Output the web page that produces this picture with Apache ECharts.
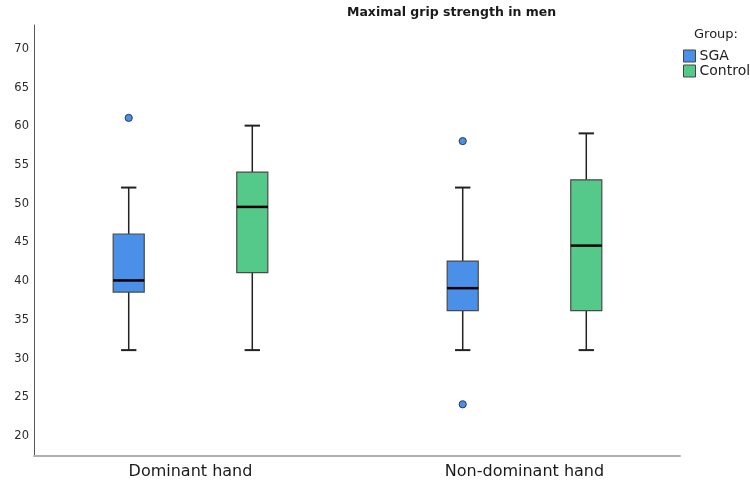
<!DOCTYPE html>
<html>
<head>
<meta charset="utf-8">
<script src="https://cdn.jsdelivr.net/npm/echarts@6/dist/echarts.min.js"></script>
<style>html,body{margin:0;padding:0;background:#fff}#c{width:750px;height:484px}</style>
</head>
<body>
<div id="c"></div>
<script>
// ---- data ----
const categories = ['Dominant hand', 'Non-dominant hand'];
const groups = ['SGA', 'Control'];
const yTicks = [20, 25, 30, 35, 40, 45, 50, 55, 60, 65, 70];
// [low whisker, Q1, median, Q3, high whisker]
const sgaBox = [[31.1, 38.6, 40.1, 46.1, 52.1], [31.1, 36.2, 39.1, 42.6, 52.1]];
const controlBox = [[31.1, 41.1, 49.6, 54.1, 60.1], [31.1, 36.2, 44.6, 53.1, 59.1]];
// [category index, value]
const sgaOutliers = [[0, 61.1], [1, 58.1], [1, 24.1]];
const controlOutliers = [];

const colors = { SGA: '#4a8fe8', Control: '#55c98a' };
const FONT = 'DejaVu Sans';
const Y_MIN = 17.42, Y_MAX = 73.1;
const GROUP_OFFSET = 0.185, BOX_FRAC = 0.093, CAP_FRAC = 0.046;

function boxRenderer(side) {
  return function (params, api) {
    const ci = api.value(0);
    const bw = api.size([1, 0])[0];
    const cx = api.coord([ci, api.value(3)])[0] + side * bw * GROUP_OFFSET;
    const y = i => api.coord([ci, api.value(i)])[1];
    const half = bw * BOX_FRAC / 2, cap = bw * CAP_FRAC / 2;
    const ln = { stroke: '#222', lineWidth: 1.5 };
    return {
      type: 'group',
      children: [
        { type: 'line', shape: { x1: cx, y1: y(5), x2: cx, y2: y(4) }, style: ln },
        { type: 'line', shape: { x1: cx, y1: y(2), x2: cx, y2: y(1) }, style: ln },
        { type: 'line', shape: { x1: cx - cap, y1: y(5), x2: cx + cap, y2: y(5) }, style: { stroke: '#222', lineWidth: 2 } },
        { type: 'line', shape: { x1: cx - cap, y1: y(1), x2: cx + cap, y2: y(1) }, style: { stroke: '#222', lineWidth: 2 } },
        { type: 'rect', shape: { x: cx - half, y: y(4), width: half * 2, height: y(2) - y(4) },
          style: { fill: api.visual('color'), stroke: '#4a4a4a', lineWidth: 1.2 } },
        { type: 'line', shape: { x1: cx - half, y1: y(3), x2: cx + half, y2: y(3) }, style: { stroke: '#000', lineWidth: 2.5 } }
      ]
    };
  };
}
function outlierRenderer(side) {
  return function (params, api) {
    const ci = api.value(0);
    const bw = api.size([1, 0])[0];
    const p = api.coord([ci, api.value(1)]);
    return { type: 'circle', shape: { cx: p[0] + side * bw * GROUP_OFFSET, cy: p[1], r: 3.6 },
      style: { fill: api.visual('color'), stroke: '#2a3a55', lineWidth: 1 } };
  };
}

const sgaData = sgaBox.map((b, i) => [i].concat(b));
const controlData = controlBox.map((b, i) => [i].concat(b));

const chart = echarts.init(document.getElementById('c'), null, { renderer: 'canvas' });
chart.setOption({
  animation: false,
  textStyle: { fontFamily: FONT },
  title: [
    { text: 'Maximal grip strength in men', left: 347, top: 6, padding: 0,
      textStyle: { fontSize: 12.5, fontWeight: 'bold', color: '#1a1a1a', fontFamily: FONT } },
    { text: 'Group:', left: 694, top: 28, padding: 0,
      textStyle: { fontSize: 13, fontWeight: 'normal', color: '#222', fontFamily: FONT } }
  ],
  legend: {
    data: groups, orient: 'vertical', left: 683, top: 49, padding: 0,
    itemWidth: 12, itemHeight: 12, itemGap: 1, icon: 'rect',
    itemStyle: { borderColor: '#444', borderWidth: 1 },
    textStyle: { fontSize: 14, color: '#222', lineHeight: 13, fontFamily: FONT, padding: [0, 0, 0, -1] }
  },
  grid: [
    { left: 34, right: 70, top: 25, bottom: 28 },
    { left: 23.5, width: 668, top: 25, bottom: 28 }
  ],
  xAxis: [
    { type: 'value', gridIndex: 0, min: 0, max: 1,
      axisLine: { show: true, onZero: false, lineStyle: { color: '#b0b0b0', width: 2 } },
      axisTick: { show: false }, axisLabel: { show: false }, splitLine: { show: false } },
    { type: 'category', gridIndex: 1, data: categories,
      axisLine: { show: false }, axisTick: { show: false }, splitLine: { show: false },
      axisLabel: { fontSize: 16, color: '#1a1a1a', margin: 8, fontFamily: FONT } }
  ],
  yAxis: [
    { type: 'value', gridIndex: 0, min: Y_MIN, max: Y_MAX,
      axisLine: { show: true, onZero: false, lineStyle: { color: '#555', width: 1 } },
      axisTick: { show: false }, splitLine: { show: false },
      axisLabel: { customValues: yTicks, fontSize: 11.5, color: '#2a2a2a', margin: 5, fontFamily: FONT } },
    { type: 'value', gridIndex: 1, min: Y_MIN, max: Y_MAX, show: false, splitLine: { show: false } }
  ],
  series: [
    { name: 'SGA', type: 'custom', xAxisIndex: 1, yAxisIndex: 1, renderItem: boxRenderer(-1),
      itemStyle: { color: colors.SGA }, encode: { x: 0, y: [1, 2, 3, 4, 5] }, data: sgaData },
    { name: 'Control', type: 'custom', xAxisIndex: 1, yAxisIndex: 1, renderItem: boxRenderer(1),
      itemStyle: { color: colors.Control }, encode: { x: 0, y: [1, 2, 3, 4, 5] }, data: controlData },
    { name: 'SGA', type: 'custom', xAxisIndex: 1, yAxisIndex: 1, renderItem: outlierRenderer(-1),
      itemStyle: { color: colors.SGA }, encode: { x: 0, y: 1 }, data: sgaOutliers },
    { name: 'Control', type: 'custom', xAxisIndex: 1, yAxisIndex: 1, renderItem: outlierRenderer(1),
      itemStyle: { color: colors.Control }, encode: { x: 0, y: 1 }, data: controlOutliers }
  ]
});
</script>
</body>
</html>
